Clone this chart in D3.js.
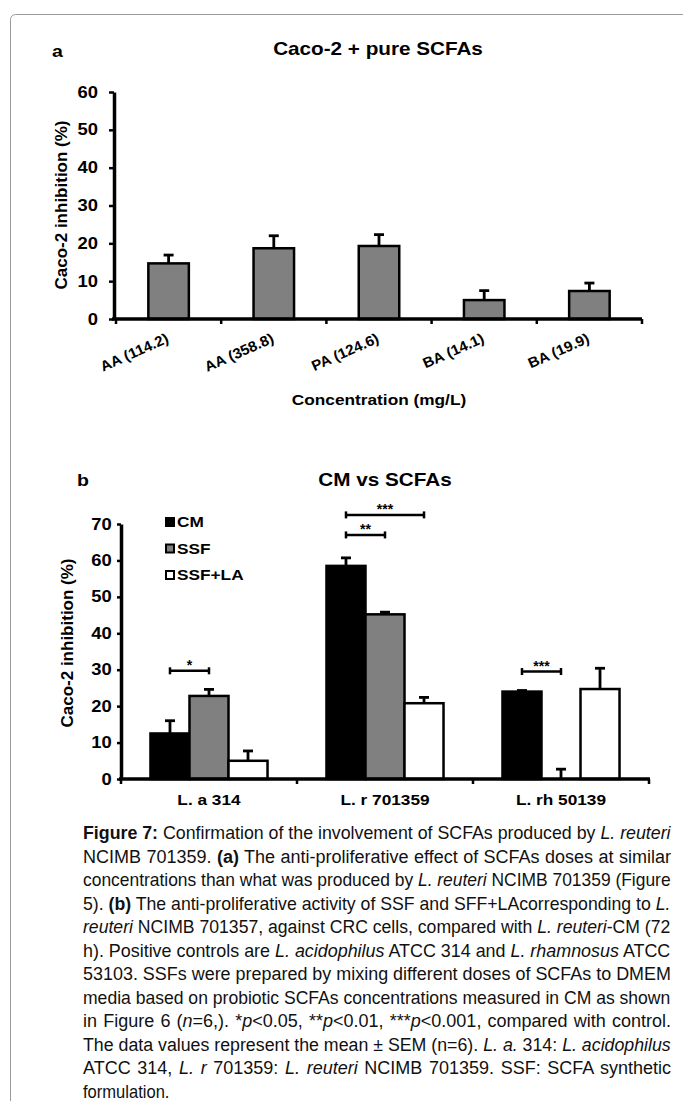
<!DOCTYPE html>
<html><head><meta charset="utf-8">
<script src="https://cdn.jsdelivr.net/npm/d3@7"></script>
<style>html,body{margin:0;padding:0;background:#fff;} svg{display:block;}</style>
</head><body>
<svg id="c" width="683" height="1101"></svg>
<script>
// ---------- data ----------
const catsA = ["AA (114.2)", "AA (358.8)", "PA (124.6)", "BA (14.1)", "BA (19.9)"];
const valsA = [14.7, 18.7, 19.3, 5.0, 7.4];
const errA  = [2.2, 3.3, 3.0, 2.5, 2.1];
const ticksA = [0, 10, 20, 30, 40, 50, 60];

const groupsB = ["L. a 314", "L. r 701359", "L. rh 50139"];
const seriesB = ["CM", "SSF", "SSF+LA"];
const cmB     = [12.5, 58.5, 24.0];
const ssfB    = [22.8, 45.2, 0.0];
const ssfLaB  = [5.0, 20.8, 24.7];
const cmErrB    = [3.5, 2.2, 0.3];
const ssfErrB   = [1.8, 0.6, 2.7];
const ssfLaErrB = [2.7, 1.6, 5.7];
const ticksB = [0, 10, 20, 30, 40, 50, 60, 70];

const sigGroup = ["L. a 314", "L. r 701359", "L. r 701359", "L. rh 50139"];
const sigFrom  = ["CM", "CM", "CM", "CM"];
const sigTo    = ["SSF", "SSF", "SSF+LA", "SSF"];
const sigLevel = [29.7, 67.0, 72.5, 29.5];
const sigLabel = ["*", "**", "***", "***"];

const captionLines = [
 "[b]Figure 7:[/b] Confirmation of the involvement of SCFAs produced by [i]L. reuteri[/i]",
 "NCIMB 701359. [b](a)[/b] The anti-proliferative effect of SCFAs doses at similar",
 "concentrations than what was produced by [i]L. reuteri[/i] NCIMB 701359 (Figure",
 "5). [b](b)[/b] The anti-proliferative activity of SSF and SFF+LAcorresponding to [i]L.[/i]",
 "[i]reuteri[/i] NCIMB 701357, against CRC cells, compared with [i]L. reuteri[/i]-CM (72",
 "h). Positive controls are [i]L. acidophilus[/i] ATCC 314 and [i]L. rhamnosus[/i] ATCC",
 "53103. SSFs were prepared by mixing different doses of SCFAs to DMEM",
 "media based on probiotic SCFAs concentrations measured in CM as shown",
 "in Figure 6 ([i]n[/i]=6,). *[i]p[/i]<0.05, **[i]p[/i]<0.01, ***[i]p[/i]<0.001, compared with control.",
 "The data values represent the mean ± SEM (n=6). [i]L. a.[/i] 314: [i]L. acidophilus[/i]",
 "ATCC 314, [i]L. r[/i] 701359: [i]L. reuteri[/i] NCIMB 701359. SSF: SCFA synthetic",
 "formulation."
];

// ---------- setup ----------
const svg = d3.select("#c");
const FONT = "'Liberation Sans', Arial, Helvetica, sans-serif";
const S = 1.15; // horizontal stretch of chart text
svg.attr("font-family", FONT);

function label(g, x, y, text, size, anchor) {
  return g.append("text")
    .attr("transform", `translate(${x},${y}) scale(${S},1)`)
    .attr("text-anchor", anchor || "middle")
    .attr("font-size", size)
    .attr("font-weight", "bold")
    .attr("fill", "#000")
    .text(text);
}

// border
svg.append("path")
  .attr("d", "M10.5,1101 V19.5 A5,5 0 0 1 15.5,14.5 H683")
  .attr("fill", "none").attr("stroke", "#9a9a9a").attr("stroke-width", 1);

// ---------- chart a ----------
const gA = svg.append("g");
const yA = d3.scaleLinear().domain([0, 60]).range([319, 92]);
const xA = d3.scaleBand().domain(catsA).range([116, 642]).paddingInner(0.615).paddingOuter(0.3075);

label(gA, 52, 57, "a", 17, "start");
label(gA, 378, 55, "Caco-2 + pure SCFAs", 18);

gA.selectAll("rect.bar").data(catsA).join("rect")
  .attr("x", d => xA(d)).attr("width", xA.bandwidth())
  .attr("y", (d, i) => yA(valsA[i])).attr("height", (d, i) => yA(0) - yA(valsA[i]))
  .attr("fill", "#808080").attr("stroke", "#000").attr("stroke-width", 2.5);

// error bars (upper)
const ebA = gA.append("g").attr("stroke", "#000").attr("stroke-width", 2.8);
catsA.forEach((c, i) => {
  const cx = xA(c) + xA.bandwidth() / 2;
  ebA.append("line").attr("x1", cx).attr("x2", cx).attr("y1", yA(valsA[i])).attr("y2", yA(valsA[i] + errA[i]));
  ebA.append("line").attr("x1", cx - 5).attr("x2", cx + 5).attr("y1", yA(valsA[i] + errA[i])).attr("y2", yA(valsA[i] + errA[i]));
});

// y axis
const axA = gA.append("g").attr("transform", "translate(114,0)")
  .call(d3.axisLeft(yA).tickValues(ticksA).tickSize(5).tickSizeOuter(0).tickPadding(9));
axA.select(".domain").attr("stroke-width", 3.5);
axA.selectAll(".tick line").attr("stroke-width", 2.5);
axA.selectAll(".tick text").attr("font-size", 16).attr("font-weight", "bold")
  .attr("font-family", FONT).attr("transform", `scale(${S},1)`);

// x axis
const stepA = xA.step();
gA.append("line").attr("x1", 112).attr("x2", 642).attr("y1", yA(0)).attr("y2", yA(0))
  .attr("stroke", "#000").attr("stroke-width", 3.5);
gA.selectAll("line.xt").data(d3.range(catsA.length + 1)).join("line")
  .attr("x1", i => 116 + i * stepA).attr("x2", i => 116 + i * stepA)
  .attr("y1", yA(0)).attr("y2", yA(0) + 5).attr("stroke", "#000").attr("stroke-width", 2.5);

gA.selectAll("text.xl").data(catsA).join("text")
  .attr("transform", d => `translate(${xA(d) + xA.bandwidth() / 2 + 1},342) rotate(-24) scale(1.05,1)`)
  .attr("text-anchor", "end").attr("font-size", 14.5).attr("font-weight", "bold")
  .text(d => d);

label(gA, 379, 405, "Concentration (mg/L)", 15);
gA.append("text").attr("transform", "translate(67,205) rotate(-90)")
  .attr("text-anchor", "middle").attr("font-size", 17).attr("font-weight", "bold")
  .text("Caco-2 inhibition (%)");

// ---------- chart b ----------
const gB = svg.append("g");
const yB = d3.scaleLinear().domain([0, 70]).range([779, 524]);
const xB = d3.scaleBand().domain(groupsB).range([121, 649]).paddingInner(0.335).paddingOuter(0.1675);
const xS = d3.scaleBand().domain(seriesB).range([0, xB.bandwidth()]);
const vals = { "CM": cmB, "SSF": ssfB, "SSF+LA": ssfLaB };
const errs = { "CM": cmErrB, "SSF": ssfErrB, "SSF+LA": ssfLaErrB };
const fills = { "CM": "#000", "SSF": "#808080", "SSF+LA": "#fff" };

label(gB, 77, 486, "b", 17, "start");
label(gB, 385, 486, "CM vs SCFAs", 18);

const cells = [];
groupsB.forEach((g, gi) => seriesB.forEach(s => cells.push({ g, s, v: vals[s][gi], e: errs[s][gi] })));

gB.selectAll("rect.bar").data(cells).join("rect")
  .attr("x", d => xB(d.g) + xS(d.s)).attr("width", xS.bandwidth())
  .attr("y", d => yB(d.v)).attr("height", d => yB(0) - yB(d.v))
  .attr("fill", d => fills[d.s]).attr("stroke", "#000").attr("stroke-width", 2.5);

const ebB = gB.append("g").attr("stroke", "#000").attr("stroke-width", 2.8);
cells.forEach(d => {
  const cx = xB(d.g) + xS(d.s) + xS.bandwidth() / 2;
  ebB.append("line").attr("x1", cx).attr("x2", cx).attr("y1", yB(d.v)).attr("y2", yB(d.v + d.e));
  ebB.append("line").attr("x1", cx - 5).attr("x2", cx + 5).attr("y1", yB(d.v + d.e)).attr("y2", yB(d.v + d.e));
});

// y axis
const axB = gB.append("g").attr("transform", "translate(121,0)")
  .call(d3.axisLeft(yB).tickValues(ticksB).tickSize(4).tickSizeOuter(0).tickPadding(4));
axB.select(".domain").attr("stroke-width", 3.5);
axB.selectAll(".tick line").attr("stroke-width", 2.5);
axB.selectAll(".tick text").attr("font-size", 16).attr("font-weight", "bold")
  .attr("font-family", FONT).attr("transform", `scale(${S},1)`);

// x axis
const stepB = xB.step();
gB.append("line").attr("x1", 119).attr("x2", 650).attr("y1", yB(0)).attr("y2", yB(0))
  .attr("stroke", "#000").attr("stroke-width", 3.5);
gB.selectAll("line.xt").data(d3.range(groupsB.length + 1)).join("line")
  .attr("x1", i => 121 + i * stepB).attr("x2", i => 121 + i * stepB)
  .attr("y1", yB(0)).attr("y2", yB(0) + 5).attr("stroke", "#000").attr("stroke-width", 2.5);
groupsB.forEach(g => label(gB, xB(g) + xB.bandwidth() / 2, 805, g, 15));

gB.append("text").attr("transform", "translate(73,643) rotate(-90)")
  .attr("text-anchor", "middle").attr("font-size", 17).attr("font-weight", "bold")
  .text("Caco-2 inhibition (%)");

// legend
seriesB.forEach((s, i) => {
  gB.append("rect").attr("x", 166).attr("y", 518 + 26.5 * i).attr("width", 8).attr("height", 8)
    .attr("fill", fills[s]).attr("stroke", "#000").attr("stroke-width", 2);
  label(gB, 177, 527 + 26.5 * i, s, 15, "start");
});

// significance brackets (span from the first bar to just past the compared bar)
const sg = gB.append("g").attr("stroke", "#000").attr("stroke-width", 2.5);
sigGroup.forEach((g, i) => {
  const x1 = xB(g) + xS(sigFrom[i]) + xS.bandwidth() / 2;
  const x2 = xB(g) + xS(sigTo[i]) + xS.bandwidth() / 2;
  const y = yB(sigLevel[i]);
  sg.append("line").attr("x1", x1).attr("x2", x2).attr("y1", y).attr("y2", y);
  sg.append("line").attr("x1", x1).attr("x2", x1).attr("y1", y - 3.5).attr("y2", y + 3.5);
  sg.append("line").attr("x1", x2).attr("x2", x2).attr("y1", y - 3.5).attr("y2", y + 3.5);
  gB.append("text").attr("x", (x1 + x2) / 2).attr("y", y - 1).attr("text-anchor", "middle")
    .attr("font-size", 14).attr("font-weight", "bold").text(sigLabel[i]);
});

// ---------- caption ----------
const capG = svg.append("g").attr("font-family", "'Liberation Sans Narrow', 'Arial Narrow', 'Liberation Sans', Arial, sans-serif")
  .attr("font-size", 18).attr("fill", "#111");
const capX = 83, capW = 588, capY0 = 839, capDY = 23.5;
captionLines.forEach((line, li) => {
  const y = capY0 + li * capDY;
  const t = capG.append("text").attr("x", 0).attr("y", 0);
  let bold = false, ital = false;
  line.split(/(\[\/?[bi]\])/).forEach(part => {
    if (part === "[b]") { bold = true; return; }
    if (part === "[/b]") { bold = false; return; }
    if (part === "[i]") { ital = true; return; }
    if (part === "[/i]") { ital = false; return; }
    if (!part) return;
    t.append("tspan").attr("font-weight", bold ? "bold" : "normal")
      .attr("font-style", ital ? "italic" : "normal").text(part);
  });
  const natural = t.node().getComputedTextLength();
  if (li < captionLines.length - 1) {
    if (natural > capW) {
      t.attr("transform", `translate(${capX},${y}) scale(${capW / natural},1)`);
    } else {
      const spaces = (line.replace(/\[\/?[bi]\]/g, "").match(/ /g) || []).length;
      t.attr("transform", `translate(${capX},${y})`).attr("word-spacing", (capW - natural) / spaces);
    }
  } else {
    const natural0 = natural;
    t.attr("transform", `translate(${capX},${y}) scale(${Math.min(1, 0.92)},1)`);
  }
});
</script>
</body></html>
